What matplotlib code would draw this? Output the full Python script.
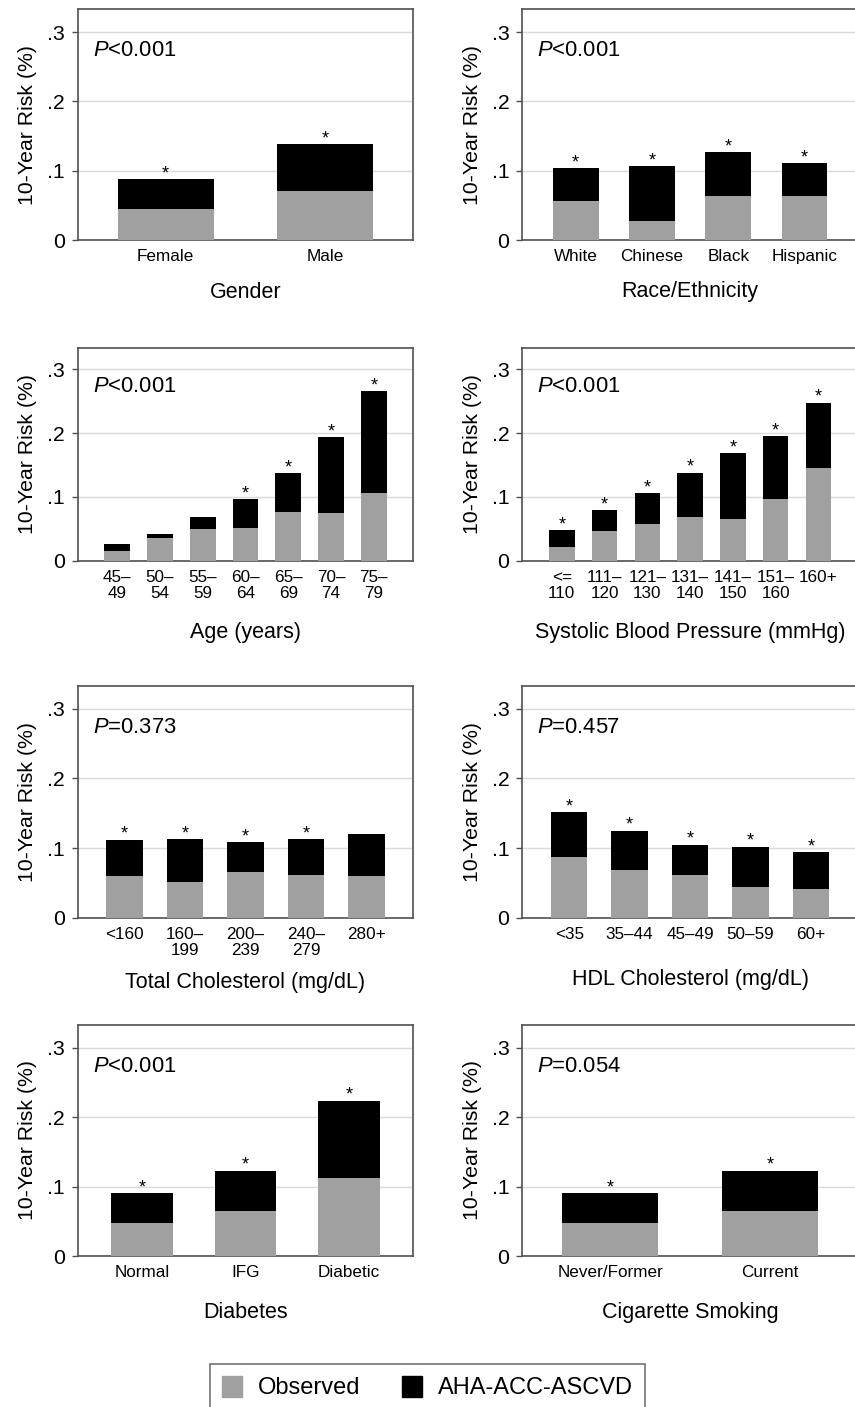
import matplotlib
matplotlib.use('Agg')
import numpy as np
import matplotlib.pyplot as plt
from matplotlib.patches import Patch

plt.rcParams['font.family'] = ['Liberation Sans', 'DejaVu Sans']
plt.rcParams['mathtext.fontset'] = 'custom'
plt.rcParams['mathtext.it'] = 'Liberation Sans:italic'
plt.rcParams['mathtext.rm'] = 'Liberation Sans'

# data (10-year risk, observed vs AHA-ACC-ASCVD predicted)
gender_cats = ['Female', 'Male']
gender_obs = [0.045, 0.071]
gender_aha = [0.088, 0.139]
gender_star = [1, 1]

race_cats = ['White', 'Chinese', 'Black', 'Hispanic']
race_obs = [0.057, 0.028, 0.064, 0.064]
race_aha = [0.104, 0.107, 0.127, 0.111]
race_star = [1, 1, 1, 1]

age_cats = ['45\u2013\n49', '50\u2013\n54', '55\u2013\n59', '60\u2013\n64',
            '65\u2013\n69', '70\u2013\n74', '75\u2013\n79']
age_obs = [0.015, 0.035, 0.049, 0.052, 0.076, 0.075, 0.106]
age_aha = [0.026, 0.042, 0.069, 0.097, 0.137, 0.194, 0.266]
age_star = [0, 0, 0, 1, 1, 1, 1]

sbp_cats = ['<=\n110', '111\u2013\n120', '121\u2013\n130', '131\u2013\n140',
            '141\u2013\n150', '151\u2013\n160', '160+']
sbp_obs = [0.022, 0.047, 0.058, 0.068, 0.066, 0.0965, 0.145]
sbp_aha = [0.048, 0.079, 0.106, 0.138, 0.169, 0.195, 0.248]
sbp_star = [1, 1, 1, 1, 1, 1, 1]

tc_cats = ['<160', '160\u2013\n199', '200\u2013\n239', '240\u2013\n279', '280+']
tc_obs = [0.060, 0.051, 0.066, 0.062, 0.060]
tc_aha = [0.112, 0.113, 0.108, 0.113, 0.120]
tc_star = [1, 1, 1, 1, 0]

hdl_cats = ['<35', '35\u201344', '45\u201349', '50\u201359', '60+']
hdl_obs = [0.0865, 0.069, 0.062, 0.044, 0.041]
hdl_aha = [0.152, 0.125, 0.105, 0.102, 0.094]
hdl_star = [1, 1, 1, 1, 1]

dm_cats = ['Normal', 'IFG', 'Diabetic']
dm_obs = [0.048, 0.065, 0.112]
dm_aha = [0.091, 0.123, 0.224]
dm_star = [1, 1, 1]

smk_cats = ['Never/Former', 'Current']
smk_obs = [0.048, 0.065]
smk_aha = [0.091, 0.123]
smk_star = [1, 1]

titles = ['Gender', 'Race/Ethnicity', 'Age (years)', 'Systolic Blood Pressure (mmHg)',
          'Total Cholesterol (mg/dL)', 'HDL Cholesterol (mg/dL)', 'Diabetes', 'Cigarette Smoking']
pvals = ['<0.001', '<0.001', '<0.001', '<0.001', '=0.373', '=0.457', '<0.001', '=0.054']

panels = [
    (gender_cats, gender_obs, gender_aha, gender_star),
    (race_cats, race_obs, race_aha, race_star),
    (age_cats, age_obs, age_aha, age_star),
    (sbp_cats, sbp_obs, sbp_aha, sbp_star),
    (tc_cats, tc_obs, tc_aha, tc_star),
    (hdl_cats, hdl_obs, hdl_aha, hdl_star),
    (dm_cats, dm_obs, dm_aha, dm_star),
    (smk_cats, smk_obs, smk_aha, smk_star),
]

W, H = 855, 1407
gray = '#a0a0a0'
dark = '#505050'
col_x = [77.7, 522.3]
ax_w = 335.6
rows = [(9.3, 240), (348.3, 560.7), (685.7, 917.7), (1025, 1256)]
title_off = [57.5, 57.5, 77.5, 77.5, 70.5, 67.5, 62, 62]  # px, axis -> title baseline

fig = plt.figure(figsize=(W / 100, H / 100), dpi=100)

for i, (cats, obs, aha, star) in enumerate(panels):
    r, c = divmod(i, 2)
    top, bot = rows[r]
    ax = fig.add_axes([col_x[c] / W, 1 - bot / H, ax_w / W, (bot - top) / H])
    n = len(cats)
    x = np.arange(n)
    ax.bar(x, aha, width=0.6, color='black', zorder=2)
    ax.bar(x, obs, width=0.6, color=gray, zorder=3)
    for xi, yi, s in zip(x, aha, star):
        if s:
            ax.annotate('*', (xi, yi), xytext=(0, 0.5), textcoords='offset points',
                        ha='center', va='baseline', fontsize=13)
    m = 0.4 + 0.075 * n
    ax.set_xlim(-m, n - 1 + m)
    ax.set_ylim(0, 0.333)
    ax.set_yticks([0, 0.1, 0.2, 0.3], ['0', '.1', '.2', '.3'])
    ax.yaxis.grid(True, color='#dadada', lw=1)
    ax.set_axisbelow(True)
    ax.set_xticks(x)
    ax.set_xticklabels(cats, fontsize=12.3, linespacing=1.05)
    ax.tick_params(axis='x', length=0, pad=6.8)
    ax.tick_params(axis='y', length=4.3, width=1, color=dark, pad=5, labelsize=15.3)
    for sp in ax.spines.values():
        sp.set_color(dark)
        sp.set_linewidth(1.2)
    ax.set_ylabel('10-Year Risk (%)', fontsize=15.3)
    ax.yaxis.set_label_coords(-0.121, 0.5)
    ax.annotate(titles[i], (0.5, 0), xycoords='axes fraction',
                xytext=(0, -title_off[i] * 0.72), textcoords='offset points',
                ha='center', va='baseline', fontsize=15.5)
    ax.annotate(r'$\mathit{P}$' + pvals[i], (0, 0.277), xycoords=('axes fraction', 'data'),
                xytext=(10.8, -5.7), textcoords='offset points',
                ha='left', va='baseline', fontsize=15.8)

handles = [Patch(color=gray, label='Observed'), Patch(color='black', label='AHA-ACC-ASCVD')]
leg = fig.legend(handles=handles, loc='center', bbox_to_anchor=(0.5, 1 - 1387.5 / H),
                 ncol=2, fontsize=17, frameon=True, fancybox=False, edgecolor=dark,
                 handlelength=0.85, handleheight=1.0, handletextpad=0.68,
                 columnspacing=1.78, borderpad=0.5)
leg.get_frame().set_linewidth(1.2)

fig.savefig('out.png', dpi=100)
